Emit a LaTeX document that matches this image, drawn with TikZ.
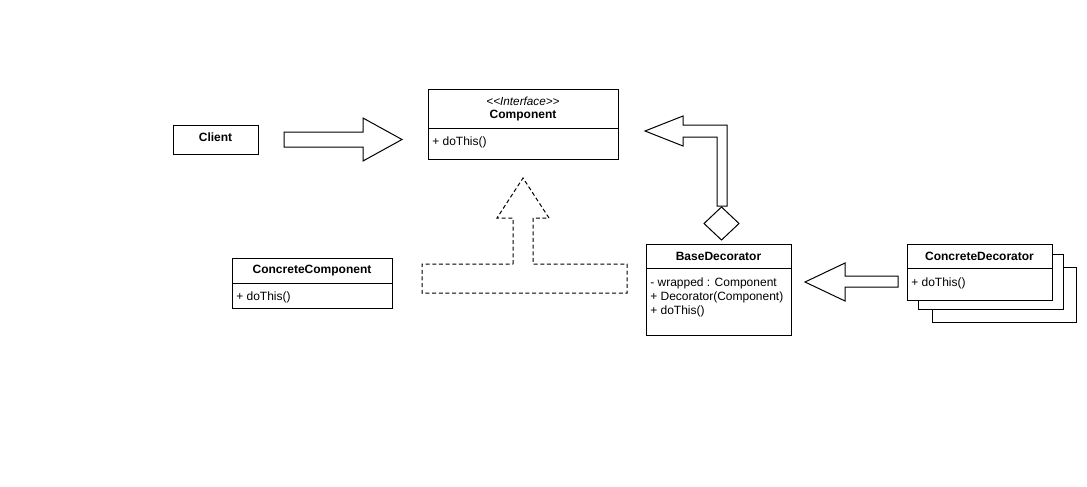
\documentclass[tikz,border=0pt]{standalone}
\usepackage{fontspec}
\setmainfont{Liberation Sans}
\begin{document}
\begin{tikzpicture}[x=0.75pt,y=-0.75pt,
  base/.style={line width=0.75pt},
  box/.style={draw, base, anchor=north west, inner sep=0pt, fill=white},
  title/.style={font=\fontsize{9}{11}\selectfont\bfseries, inner sep=0pt},
  member/.style={font=\fontsize{9}{11}\selectfont, anchor=west, inner sep=0pt},
  blockarrow/.style={draw, base, fill=white, line join=miter},
  dashedarrow/.style={draw, base, dashed, dash pattern=on 3pt off 2pt}
]
\useasboundingbox (0,0) rectangle (1087,486);

% Client
\node[box, minimum width={85*0.75pt}, minimum height={29*0.75pt}] (client) at (173,125) {};
\node[title] (clientT) at (215.5,137) {Client};

% arrow Client -> Component
\draw[blockarrow] (284,132) -- (363,132) -- (363,118) -- (402,139.5) -- (363,161) -- (363,147) -- (284,147) -- cycle;

% Component
\node[box, minimum width={190*0.75pt}, minimum height={70*0.75pt}] (comp) at (428,89) {};
\draw[base] (428,128) -- (618,128);
\node[inner sep=0pt, font=\fontsize{8.8}{10}\selectfont\itshape] (stereo) at (523,101) {<\kern0pt<Interface>\kern0pt>};
\node[title] (compT) at (523,115.5) {Component};
\node[member] (compM) at (432,142.5) {+ doThis()};

% dashed inheritance arrow
\draw[dashedarrow] (513,264) -- (513,218) -- (497,218) -- (523,178) -- (549,218) -- (533,218) -- (533,264)
  -- (627,264) -- (627,293) -- (422,293) -- (422,264) -- cycle;

% ConcreteComponent
\node[box, minimum width={160*0.75pt}, minimum height={50*0.75pt}] (cc) at (232,258) {};
\draw[base] (232,283) -- (392,283);
\node[title] (ccT) at (312,270.5) {ConcreteComponent};
\node[member] (ccM) at (236,297.5) {+ doThis()};

% bent arrow BaseDecorator -> Component
\draw[blockarrow] (717,206) -- (717,137) -- (683,137) -- (683,146) -- (645,131) -- (683,116) -- (683,125) -- (727,125) -- (727,206) -- cycle;
\draw[base, fill=white] (721.5,207) -- (739,223.5) -- (721.5,240) -- (704,223.5) -- cycle;

% BaseDecorator
\node[box, minimum width={145*0.75pt}, minimum height={91*0.75pt}] (bd) at (646,244) {};
\draw[base] (646,268) -- (791,268);
\node[title] (bdT) at (718.5,256.5) {BaseDecorator};
\node[member] (bd1) at (650,283) {- wrapped : Component};
\node[member] (bd2) at (650,297.5) {+ Decorator(Component)};
\node[member] (bd3) at (650,311.5) {+ doThis()};

% arrow ConcreteDecorator -> BaseDecorator
\draw[blockarrow] (898,276) -- (845,276) -- (845,263) -- (805,282) -- (845,301) -- (845,287) -- (898,287) -- cycle;

% ConcreteDecorator stack
\node[box, minimum width={144*0.75pt}, minimum height={55*0.75pt}] (cd3) at (932,267) {};
\node[box, minimum width={145*0.75pt}, minimum height={55*0.75pt}] (cd2) at (918,254) {};
\node[box, minimum width={145*0.75pt}, minimum height={56*0.75pt}] (cd) at (907,244) {};
\draw[base] (907,268) -- (1052,268);
\node[title] (cdT) at (979.5,256) {ConcreteDecorator};
\node[member] (cdM) at (911,283) {+ doThis()};
\end{tikzpicture}
\end{document}
